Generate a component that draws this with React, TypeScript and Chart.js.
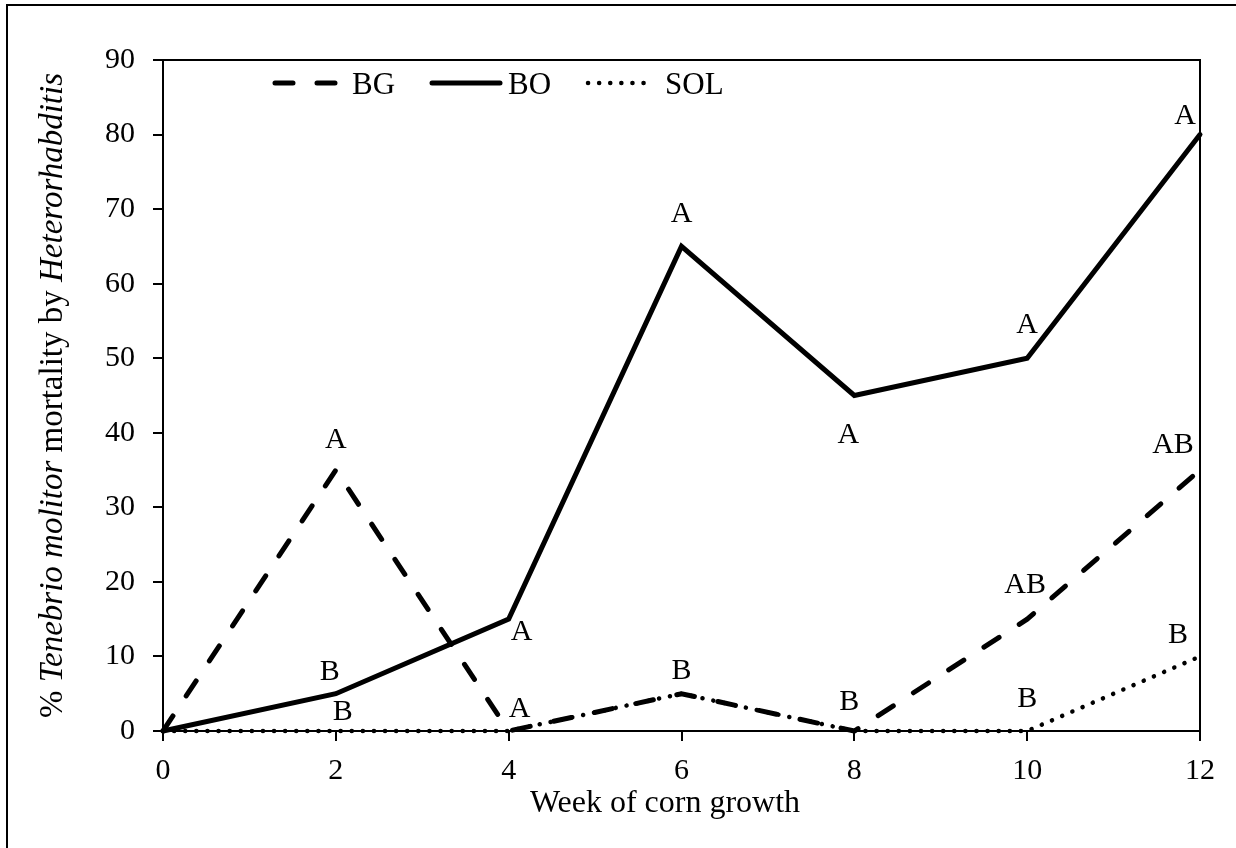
import React, { useEffect, useRef } from "react";
import { Chart, registerables } from "chart.js";

Chart.register(...registerables);

// ---- data ----
const weeks = [0, 2, 4, 6, 8, 10, 12];
const bgValues = [0, 35, 0, 5, 0, 15, 35];
const boValues = [0, 5, 15, 65, 45, 50, 80];
const solValues = [0, 0, 0, 5, 0, 0, 10];
const seriesNames = ["BG", "BO", "SOL"];

// significance letters (text, week, value)
const letterText = ["A", "B", "B", "A", "A", "A", "B", "A", "B", "A", "AB", "B", "A", "AB", "B"];
const letterWeek = [2, 2, 2, 4, 4, 6, 6, 8, 8, 10, 10, 10, 12, 12, 12];
const letterValue = [35, 5, 0, 15, 0, 65, 5, 45, 0, 50, 15, 0, 80, 35, 10];
// pixel offsets of letters from their point (style)
const letterDx = [0, -6, 7, 13, 11, 0, 0, -6, -5, 0, -2, 0, -15, -27, -22];
const letterDy = [-32, -24, -21, 11, -24, -34, -25, 37, -31, -35, -36, -34, -21, -27, -23];

const xTitle = "Week of corn growth";
const yTitleParts: [string, boolean][] = [
  ["% ", false],
  ["Tenebrio molitor", true],
  [" mortality by ", false],
  ["Heterorhabditis", true],
];

const FONT = "'Liberation Serif', 'Times New Roman', serif";

const decorPlugin = {
  id: "decor",
  afterDatasetsDraw(chart: any) {
    const ctx = chart.ctx as CanvasRenderingContext2D;
    const { left, right, top, bottom } = chart.chartArea;
    const xs = chart.scales.x;
    const ys = chart.scales.y;
    ctx.save();
    // outer frame (top + left)
    ctx.strokeStyle = "#000";
    ctx.lineWidth = 2;
    ctx.beginPath();
    ctx.moveTo(7, 848);
    ctx.lineTo(7, 5);
    ctx.lineTo(1236, 5);
    ctx.stroke();
    // plot box top and right
    ctx.lineWidth = 2;
    ctx.beginPath();
    ctx.moveTo(left, top);
    ctx.lineTo(right, top);
    ctx.lineTo(right, bottom);
    ctx.stroke();

    // letters
    ctx.fillStyle = "#000";
    ctx.font = `30px ${FONT}`;
    ctx.textAlign = "center";
    ctx.textBaseline = "alphabetic";
    for (let i = 0; i < letterText.length; i++) {
      const px = xs.getPixelForValue(letterWeek[i]) + letterDx[i];
      const py = ys.getPixelForValue(letterValue[i]) + letterDy[i];
      ctx.fillText(letterText[i], px, py + 10);
    }

    // legend
    const sampleX = [[275, 338], [432, 500], [588, 652]];
    const textX = [352, 508, 665];
    const ly = 83;
    chart.data.datasets.forEach((ds: any, i: number) => {
      ctx.save();
      ctx.strokeStyle = ds.borderColor;
      ctx.lineWidth = ds.borderWidth;
      ctx.lineCap = ds.borderCapStyle || "butt";
      ctx.setLineDash(ds.borderDash || []);
      ctx.beginPath();
      ctx.moveTo(sampleX[i][0], ly);
      ctx.lineTo(sampleX[i][1], ly);
      ctx.stroke();
      ctx.restore();
      ctx.font = `31px ${FONT}`;
      ctx.textAlign = "left";
      ctx.fillText(ds.label, textX[i], 94);
    });

    // x title
    ctx.font = `32px ${FONT}`;
    ctx.textAlign = "center";
    ctx.fillText(xTitle, 665, 812);

    // y title (mixed italic)
    ctx.translate(62, (top + bottom) / 2);
    ctx.rotate(-Math.PI / 2);
    ctx.textAlign = "left";
    let total = 0;
    const widths = yTitleParts.map(([t, it]) => {
      ctx.font = `${it ? "italic " : ""}33px ${FONT}`;
      const w = ctx.measureText(t).width;
      total += w;
      return w;
    });
    let cx = -total / 2;
    yTitleParts.forEach(([t, it], i) => {
      ctx.font = `${it ? "italic " : ""}33px ${FONT}`;
      ctx.fillText(t, cx, 0);
      cx += widths[i];
    });
    ctx.restore();
  },
};

export default function App() {
  const ref = useRef<HTMLCanvasElement | null>(null);
  useEffect(() => {
    if (!ref.current) return;
    const mk = (vals: number[]) => weeks.map((w, i) => ({ x: w, y: vals[i] }));
    const chart = new Chart(ref.current, {
      type: "line",
      data: {
        datasets: [
          {
            label: seriesNames[0],
            data: mk(bgValues),
            borderColor: "#000",
            borderWidth: 5,
            borderDash: [18, 24],
            borderCapStyle: "round",
            pointRadius: 0,
            fill: false,
            tension: 0,
            clip: false,
          },
          {
            label: seriesNames[1],
            data: mk(boValues),
            borderColor: "#000",
            borderWidth: 5,
            borderCapStyle: "round",
            pointRadius: 0,
            fill: false,
            tension: 0,
            clip: false,
          },
          {
            label: seriesNames[2],
            data: mk(solValues),
            borderColor: "#000",
            borderWidth: 4.5,
            borderDash: [0.1, 11],
            borderCapStyle: "round",
            pointRadius: 0,
            fill: false,
            tension: 0,
            clip: false,
          },
        ],
      },
      options: {
        responsive: false,
        animation: false,
        layout: { padding: { top: 60, right: 36, left: 0, bottom: 0 } },
        plugins: { legend: { display: false }, tooltip: { enabled: false } },
        scales: {
          x: {
            type: "linear",
            min: 0,
            max: 12,
            afterFit: (s: any) => {
              s.height = 117;
            },
            ticks: {
              stepSize: 2,
              color: "#000",
              padding: 12,
              font: { family: FONT, size: 30 },
            },
            grid: { drawOnChartArea: false, drawTicks: true, tickLength: 10, color: "#000", lineWidth: 2 },
            border: { display: true, color: "#000", width: 2 },
          },
          y: {
            min: 0,
            max: 90,
            afterFit: (s: any) => {
              s.width = 163;
            },
            ticks: {
              stepSize: 10,
              color: "#000",
              padding: 18,
              font: { family: FONT, size: 30 },
            },
            grid: { drawOnChartArea: false, drawTicks: true, tickLength: 10, color: "#000", lineWidth: 2 },
            border: { display: true, color: "#000", width: 2 },
          },
        },
      },
      plugins: [decorPlugin],
    });
    return () => chart.destroy();
  }, []);
  return (
    <div style={{ position: "absolute", left: 0, top: 0, width: 1236, height: 848, background: "#fff" }}>
      <canvas ref={ref} width={1236} height={848} style={{ display: "block" }} />
    </div>
  );
}
